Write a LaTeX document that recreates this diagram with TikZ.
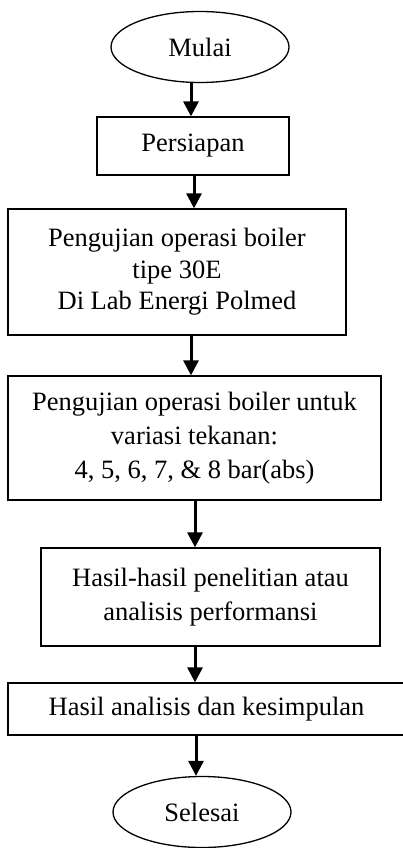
\documentclass[tikz,border=0pt]{standalone}
\usepackage{fontspec}
\setmainfont{Liberation Serif}
\usetikzlibrary{arrows.meta,shapes.geometric}

\tikzset{
  stepbox/.style={draw, line width=1.3pt, rectangle, inner sep=0pt, align=center,
    font=\fontsize{26.5}{34}\selectfont},
  terminal/.style={draw, line width=1.3pt, ellipse, inner sep=0pt,
    minimum width=178pt, minimum height=71pt, font=\fontsize{26.5}{34}\selectfont},
  flow/.style={line width=3pt, -{Triangle[width=15pt,length=15pt]}}
}

\begin{document}
\begin{tikzpicture}[x=1pt, y=-1pt]
  \useasboundingbox (0,0) rectangle (403,848);

  % process steps, top to bottom
  \node[terminal] (start) at (200,47) {Mulai};
  \node[stepbox, minimum width=192pt, minimum height=58pt] (prep) at (193,146) {Persiapan};
  \node[stepbox, minimum width=338pt, minimum height=126pt,
        font=\fontsize{26.5}{31.5}\selectfont] (test) at (177,272)
        {Pengujian operasi boiler\\tipe 30E\\Di Lab Energi Polmed};
  \node[stepbox, minimum width=373pt, minimum height=124pt] (vary) at (194.5,438)
        {Pengujian operasi boiler untuk\\variasi tekanan:\\4, 5, 6, 7, \& 8 bar(abs)};
  \node[stepbox, minimum width=339pt, minimum height=98pt] (res) at (210.5,597)
        {Hasil-hasil penelitian atau\\analisis performansi};
  \node[stepbox, minimum width=397pt, minimum height=52pt] (concl) at (206.5,709)
        {Hasil analisis dan kesimpulan};
  \node[terminal] (stop) at (202,812) {Selesai};

  % x positions of the connecting arrows
  \coordinate (c1) at (191,0);
  \coordinate (c2) at (194,0);
  \coordinate (c3) at (191,0);
  \coordinate (c4) at (195,0);
  \coordinate (c5) at (195,0);
  \coordinate (c6) at (196,0);

  \draw[flow] (start.south -| c1) -- (prep.north -| c1);
  \draw[flow] (prep.south -| c2) -- (test.north -| c2);
  \draw[flow] (test.south -| c3) -- (vary.north -| c3);
  \draw[flow] (vary.south -| c4) -- (res.north -| c4);
  \draw[flow] (res.south -| c5) -- (concl.north -| c5);
  \draw[flow] (concl.south -| c6) -- (stop.north -| c6);
\end{tikzpicture}
\end{document}
